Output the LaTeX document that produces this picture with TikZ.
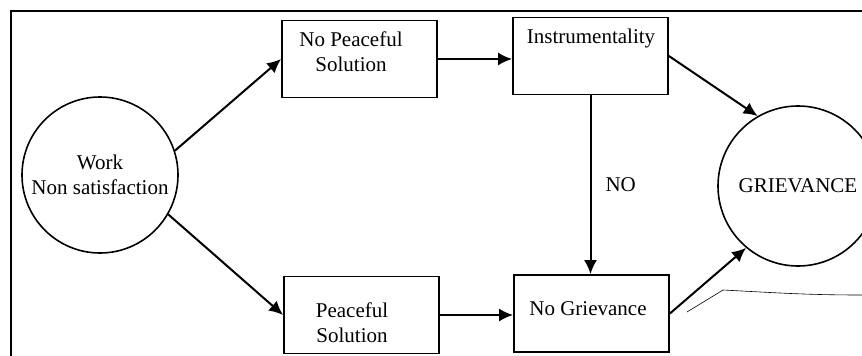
\documentclass[tikz,border=0pt]{standalone}
\usepackage{fontspec}
\setmainfont{Liberation Serif}
\usetikzlibrary{positioning,arrows.meta}

\begin{document}
\begin{tikzpicture}[
x=1pt,y=-1pt,
box/.style={
  draw,
  line width=1.8pt,
  minimum width=155pt,
  minimum height=77pt
},
circ/.style={
  draw,
  circle,
  line width=1.6pt,
  inner sep=0pt,
  align=center
},
txt/.style={
  inner sep=0pt,
  align=center
},
conn/.style={
  line width=2pt,
  -{Latex[length=14pt,width=13pt]}
},
font=\fontsize{21}{25}\selectfont
]
\useasboundingbox (0,0) rectangle (862,356);

% outer frame
\draw[line width=2pt] (11,356) -- (11,11) -- (862,11);

\node[circ,minimum size=156pt] (work) at (100,175) 
  {Work\\Non satisfaction};
\node[circ,minimum size=160pt] (griev) at (798,186) 
  {GRIEVANCE};

\node[box] (nps) at (359.5,59) {};
\node[txt] (nps-t) at (351,51.5) {No Peaceful\\Solution};
\node[box] (ps) at (361.5,315) {};
\node[txt] (ps-t) at (352,322.5) {Peaceful\\Solution};
\node[box] (inst) at (590.5,56) {};
\node[txt] (inst-t) at (591,38.5) {Instrumentality};
\node[box] (ng) at (591.5,313.5) {};
\node[txt] (ng-t) at (588,309) {No Grievance};

\draw[conn] (work.18) -- (nps.west);
\draw[conn] (work.-30) -- (ps.west);
\draw[conn] (nps.east) -- (nps.east -| inst.west);
\draw[conn] (ps.east) -- (ps.east -| ng.west);
\draw[conn] (inst.south) -- node[txt,right=14pt] (no) {NO} 
  (inst.south |- ng.north);
\draw[conn] (inst.east) -- (griev.120);
\draw[conn] (ng.east) -- (griev.230);

% stray stroke
\coordinate (s1) at (687,312);
\coordinate (s2) at (723,290);
\coordinate (s3) at (862,295);
\draw[line width=0.6pt] (s1) -- (s2) to[out=-3,in=180] (s3);
\end{tikzpicture}
\end{document}
